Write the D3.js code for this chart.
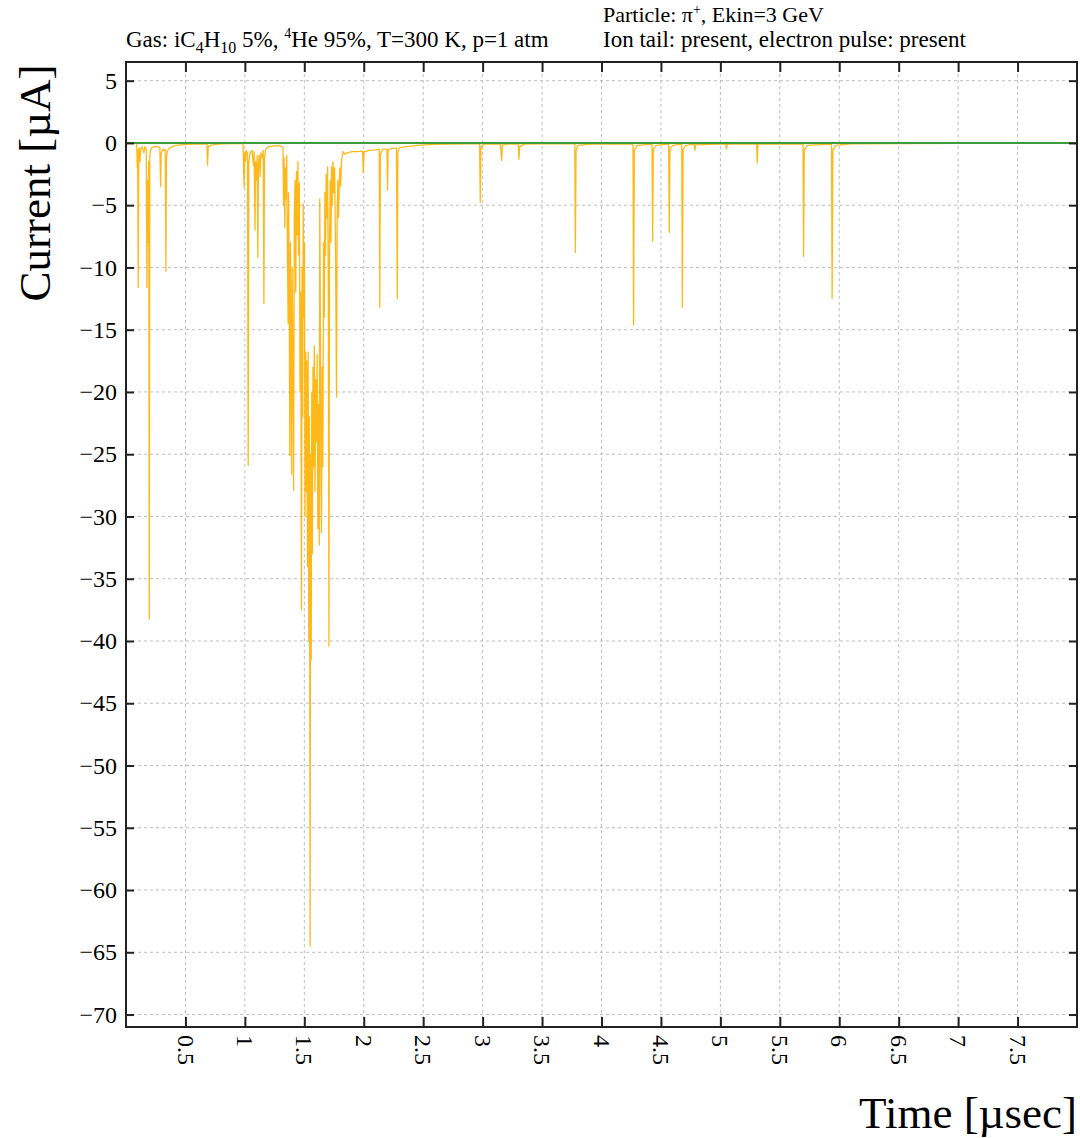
<!DOCTYPE html>
<html>
<head>
<meta charset="utf-8">
<script src="https://cdn.jsdelivr.net/npm/d3@7"></script>
<style>
  html, body { margin: 0; padding: 0; background: #fff; }
  svg { display: block; font-family: "Liberation Serif", "DejaVu Serif", serif; }
  svg .tick text { font-family: "Liberation Serif", "DejaVu Serif", serif; font-size: 24px; fill: #000; }
</style>
</head>
<body>
<div id="chart"></div>
<script>
// tick values
const xTicks = [0.5, 1, 1.5, 2, 2.5, 3, 3.5, 4, 4.5, 5, 5.5, 6, 6.5, 7, 7.5];
const yTicks = [5, 0, -5, -10, -15, -20, -25, -30, -35, -40, -45, -50, -55, -60, -65, -70];

// signal current [µA] vs time [µs]
const signal = [
  [0.090, 0], [0.095, -2.0], [0.098, -0.5], [0.103, -11.6], [0.107, -1.0], [0.112, -0.4],
  [0.118, -1.5], [0.122, -0.6], [0.135, -0.3], [0.150, -0.8], [0.160, -0.3],
  [0.170, -0.5], [0.176, -11.6], [0.180, -3.0], [0.186, -8.0], [0.191, -1.5], [0.196, -38.2],
  [0.200, -1.2], [0.205, -0.6], [0.215, -0.4], [0.240, -0.3], [0.268, -0.3],
  [0.285, -0.4], [0.291, -3.5], [0.296, -0.8], [0.310, -0.5], [0.320, -0.6], [0.330, -0.5],
  [0.336, -10.3], [0.340, -1.2], [0.350, -0.6], [0.370, -0.4], [0.400, -0.25], [0.450, -0.15],
  [0.550, -0.1], [0.650, -0.08], [0.680, -0.1], [0.686, -1.8], [0.692, -0.3], [0.720, -0.15],
  [0.800, -0.08], [0.900, -0.05], [0.980, -0.05],
  [0.985, -0.1], [0.990, -2.5], [0.994, -3.6], [0.998, -0.8], [1.005, -1.5], [1.010, -0.6],
  [1.022, -0.8], [1.028, -25.9], [1.033, -1.5], [1.045, -0.8], [1.060, -0.6], [1.072, -1.8],
  [1.078, -0.7], [1.085, -7.0], [1.090, -1.5], [1.098, -3.0], [1.104, -1.0], [1.109, -9.2],
  [1.114, -1.8], [1.122, -1.0], [1.128, -2.7], [1.135, -0.8], [1.148, -1.2], [1.154, -0.6],
  [1.160, -12.9], [1.165, -1.2], [1.175, -0.5], [1.200, -0.3], [1.240, -0.25], [1.280, -0.2],
  [1.310, -0.3],
  [1.320, -0.4], [1.326, -5.0], [1.330, -1.2], [1.336, -6.8], [1.340, -2.0], [1.345, -4.5],
  [1.352, -1.0], [1.358, -9.0], [1.364, -14.5], [1.368, -4.0], [1.373, -11.0], [1.378, -25.1],
  [1.383, -8.0], [1.388, -15.0], [1.393, -26.6], [1.398, -10.0], [1.404, -18.0], [1.410, -27.9],
  [1.416, -6.0], [1.422, -3.0], [1.428, -12.0], [1.434, -2.3], [1.440, -7.4], [1.446, -1.5],
  [1.452, -9.0], [1.458, -3.2], [1.464, -20.0], [1.470, -12.0], [1.476, -37.5], [1.481, -10.0],
  [1.486, -22.0], [1.491, -4.9], [1.496, -14.0], [1.501, -8.0], [1.506, -30.0], [1.511, -16.8],
  [1.516, -28.0], [1.521, -17.5], [1.527, -34.0], [1.532, -16.8], [1.538, -40.0], [1.543, -22.0],
  [1.549, -64.5], [1.553, -25.0], [1.558, -41.5], [1.563, -20.0], [1.568, -33.0], [1.573, -18.0],
  [1.578, -26.0], [1.584, -16.3], [1.590, -28.0], [1.596, -19.0], [1.602, -24.0], [1.608, -17.0],
  [1.614, -31.0], [1.620, -21.0], [1.626, -32.3], [1.630, -4.5], [1.634, -12.0], [1.640, -27.0],
  [1.645, -31.3], [1.650, -18.0], [1.656, -26.0], [1.662, -8.0], [1.668, -14.0], [1.673, -4.0],
  [1.678, -9.0], [1.684, -2.5], [1.690, -6.0], [1.696, -1.9], [1.702, -12.0], [1.707, -40.4],
  [1.712, -8.0], [1.718, -3.0], [1.724, -8.0], [1.729, -1.9], [1.735, -5.0], [1.741, -1.5],
  [1.748, -4.0], [1.755, -2.0], [1.762, -8.0], [1.771, -20.4], [1.776, -6.2], [1.782, -3.0],
  [1.788, -6.0], [1.794, -3.2], [1.800, -2.0], [1.806, -3.5], [1.813, -1.5], [1.820, -1.0],
  [1.827, -0.7], [1.840, -0.9], [1.860, -0.8], [1.900, -0.7], [1.950, -0.7], [1.990, -0.65],
  [1.996, -2.4], [2.002, -0.7], [2.050, -0.6], [2.100, -0.55], [2.130, -0.5], [2.135, -13.2],
  [2.140, -0.9], [2.160, -0.5], [2.195, -0.5], [2.200, -3.8], [2.205, -0.6], [2.230, -0.45],
  [2.275, -0.4], [2.282, -12.5], [2.287, -0.7], [2.300, -0.4], [2.350, -0.3], [2.400, -0.25],
  [2.500, -0.15], [2.600, -0.12], [2.700, -0.1], [2.900, -0.08], [2.975, -0.08], [2.980, -4.8],
  [2.986, -0.3], [3.010, -0.1], [3.150, -0.1], [3.160, -1.4], [3.166, -0.2], [3.200, -0.1],
  [3.300, -0.1], [3.305, -1.3], [3.312, -0.3], [3.350, -0.1], [3.500, -0.08], [3.775, -0.08],
  [3.780, -8.8], [3.786, -0.6], [3.800, -0.2], [3.900, -0.1], [4.265, -0.08], [4.270, -14.6],
  [4.276, -0.6], [4.300, -0.2], [4.425, -0.1], [4.430, -7.9], [4.436, -0.5], [4.460, -0.2],
  [4.565, -0.1], [4.570, -7.2], [4.576, -0.5], [4.600, -0.2], [4.675, -0.1], [4.680, -13.2],
  [4.686, -0.5], [4.710, -0.2], [4.780, -0.1], [4.785, -0.6], [4.792, -0.15], [5.045, -0.08],
  [5.050, -0.5], [5.058, -0.1], [5.305, -0.08], [5.310, -1.6], [5.316, -0.1], [5.695, -0.08],
  [5.700, -9.1], [5.706, -0.6], [5.730, -0.2], [5.935, -0.1], [5.940, -12.5], [5.946, -0.6],
  [5.970, -0.2], [6.100, -0.08], [6.500, -0.05], [7.000, -0.04], [7.630, -0.03]
];

// zero reference line
const zeroLine = [[0, 0], [8, 0]];

const width = 1080, height = 1138;
const margin = { top: 62, right: 3, bottom: 111, left: 126 };

const svg = d3.select("#chart").append("svg")
  .attr("width", width)
  .attr("height", height)
  .attr("viewBox", [0, 0, width, height]);

const x = d3.scaleLinear().domain([0, 8]).range([margin.left, width - margin.right]);
const y = d3.scaleLinear().domain([-71, 6.5]).range([height - margin.bottom, margin.top]);

// grid
const grid = svg.append("g")
  .attr("stroke", "#bdbdbd")
  .attr("stroke-width", 1)
  .attr("stroke-dasharray", "3,3");

grid.selectAll(".gx").data(xTicks).join("line")
  .attr("x1", d => x(d)).attr("x2", d => x(d))
  .attr("y1", y.range()[1]).attr("y2", y.range()[0]);

grid.selectAll(".gy").data(yTicks).join("line")
  .attr("x1", x.range()[0]).attr("x2", x.range()[1])
  .attr("y1", d => y(d)).attr("y2", d => y(d));

// traces
svg.append("clipPath").attr("id", "clip")
  .append("rect")
  .attr("x", x.range()[0]).attr("y", y.range()[1])
  .attr("width", x.range()[1] - x.range()[0])
  .attr("height", y.range()[0] - y.range()[1]);

const line = d3.line().x(d => x(d[0])).y(d => y(d[1]));

svg.append("path")
  .datum(signal)
  .attr("clip-path", "url(#clip)")
  .attr("fill", "none")
  .attr("stroke", "#ffb000")
  .attr("stroke-width", 1.3)
  .attr("stroke-opacity", 0.9)
  .attr("stroke-linejoin", "round")
  .attr("d", line);

svg.append("path")
  .datum(zeroLine)
  .attr("clip-path", "url(#clip)")
  .attr("fill", "none")
  .attr("stroke", "#3c9b3c")
  .attr("stroke-width", 2)
  .attr("d", line);

// axes
const xAxis = svg.append("g")
  .attr("transform", `translate(0,${y.range()[0]})`)
  .call(d3.axisBottom(x).tickValues(xTicks).tickSize(-10).tickFormat(d3.format("")));
xAxis.selectAll("text")
  .attr("transform", "rotate(90)")
  .attr("x", 8)
  .attr("y", 0)
  .attr("dy", "0.35em")
  .attr("text-anchor", "start");

const xTop = svg.append("g")
  .attr("transform", `translate(0,${y.range()[1]})`)
  .call(d3.axisTop(x).tickValues(xTicks).tickSize(-10).tickFormat(""));

const yAxis = svg.append("g")
  .attr("transform", `translate(${x.range()[0]},0)`)
  .call(d3.axisLeft(y).tickValues(yTicks).tickSize(-8).tickPadding(9).tickFormat(d3.format("")));

const yRight = svg.append("g")
  .attr("transform", `translate(${x.range()[1]},0)`)
  .call(d3.axisRight(y).tickValues(yTicks).tickSize(-8).tickFormat(""));

[xAxis, xTop, yAxis, yRight].forEach(g => {
  g.attr("font-family", null).attr("font-size", null);
  g.select(".domain").remove();
  g.selectAll(".tick line").attr("stroke", "#222").attr("stroke-width", 2);
});

// frame
svg.append("rect")
  .attr("x", x.range()[0]).attr("y", y.range()[1])
  .attr("width", x.range()[1] - x.range()[0])
  .attr("height", y.range()[0] - y.range()[1])
  .attr("fill", "none")
  .attr("stroke", "#222")
  .attr("stroke-width", 2);

// axis titles
svg.append("text")
  .attr("transform", `translate(50,${183}) rotate(-90)`)
  .attr("text-anchor", "middle")
  .style("font-size", "45px")
  .text("Current [µA]");

svg.append("text")
  .attr("x", 1077)
  .attr("y", 1128)
  .attr("text-anchor", "end")
  .style("font-size", "45px")
  .text("Time [µsec]");

// header
const gas = svg.append("text")
  .attr("x", 126).attr("y", 47)
  .style("font-size", "23px");
gas.append("tspan").text("Gas: iC");
gas.append("tspan").attr("dy", 6).style("font-size", "16px").text("4");
gas.append("tspan").attr("dy", -6).text("H");
gas.append("tspan").attr("dy", 6).style("font-size", "16px").text("10");
gas.append("tspan").attr("dy", -6).text(" 5%, ");
gas.append("tspan").attr("dy", -9).style("font-size", "14px").text("4");
gas.append("tspan").attr("dy", 9).text("He 95%, T=300 K, p=1 atm");

const part = svg.append("text")
  .attr("x", 603).attr("y", 22)
  .style("font-size", "22px");
part.append("tspan").text("Particle: π");
part.append("tspan").attr("dy", -8).style("font-size", "14px").text("+");
part.append("tspan").attr("dy", 8).text(", Ekin=3 GeV");

svg.append("text")
  .attr("x", 603).attr("y", 47)
  .style("font-size", "23px")
  .text("Ion tail: present, electron pulse: present");
</script>
</body>
</html>
